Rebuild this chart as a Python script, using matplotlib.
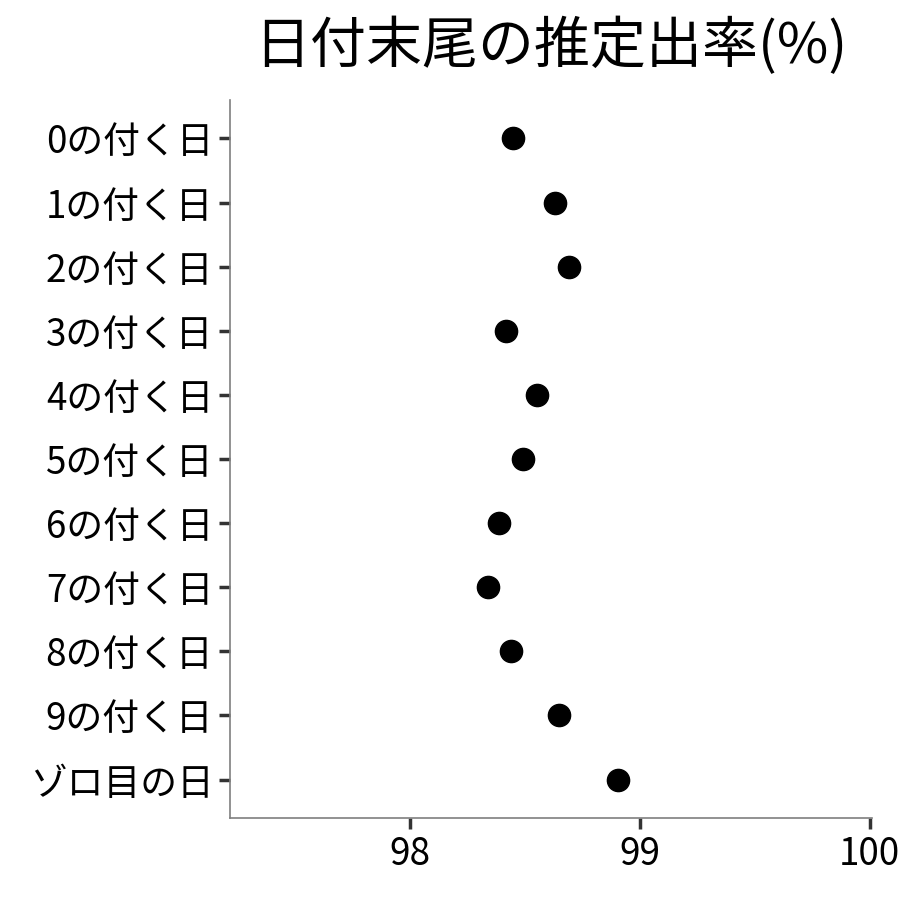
import matplotlib
matplotlib.use("Agg")
import matplotlib.pyplot as plt

plt.rcParams['font.family'] = ['Noto Sans CJK JP', 'DejaVu Sans']

categories = ["0の付く日", "1の付く日", "2の付く日", "3の付く日", "4の付く日",
              "5の付く日", "6の付く日", "7の付く日", "8の付く日", "9の付く日", "ゾロ目の日"]
values = [98.448, 98.630, 98.691, 98.417, 98.552, 98.491, 98.387, 98.339, 98.439, 98.648, 98.904]
xticks = [98, 99, 100]
title = "日付末尾の推定出率(%)"

fig = plt.figure(figsize=(9, 9), dpi=100)
ax = fig.add_axes([230/900, 1 - 818/900, (872-230)/900, (818-100)/900])

n = len(categories)
ypos = list(range(n, 0, -1))
ax.plot(values, ypos, 'o', color='black', markersize=16, linestyle='none')

ax.set_xlim(97.217, 100.01)
ax.set_ylim(0.4, n + 0.6)
ax.set_yticks(ypos)
ax.set_yticklabels(categories, fontsize=26.5)
ax.set_xticks(xticks)
ax.set_xticklabels([str(t) for t in xticks], fontsize=26.5)

for s in ['top', 'right']:
    ax.spines[s].set_visible(False)
for s in ['left', 'bottom']:
    ax.spines[s].set_color('#7f7f7f')
    ax.spines[s].set_linewidth(1.2)
ax.tick_params(axis='both', length=8, width=2.5, color='#333333', pad=4)

fig.text((230 + 872) / 2 / 900, 1 - 47/900, title, ha='center', va='center', fontsize=40.3)

fig.savefig("out.png", dpi=100, facecolor='white')
